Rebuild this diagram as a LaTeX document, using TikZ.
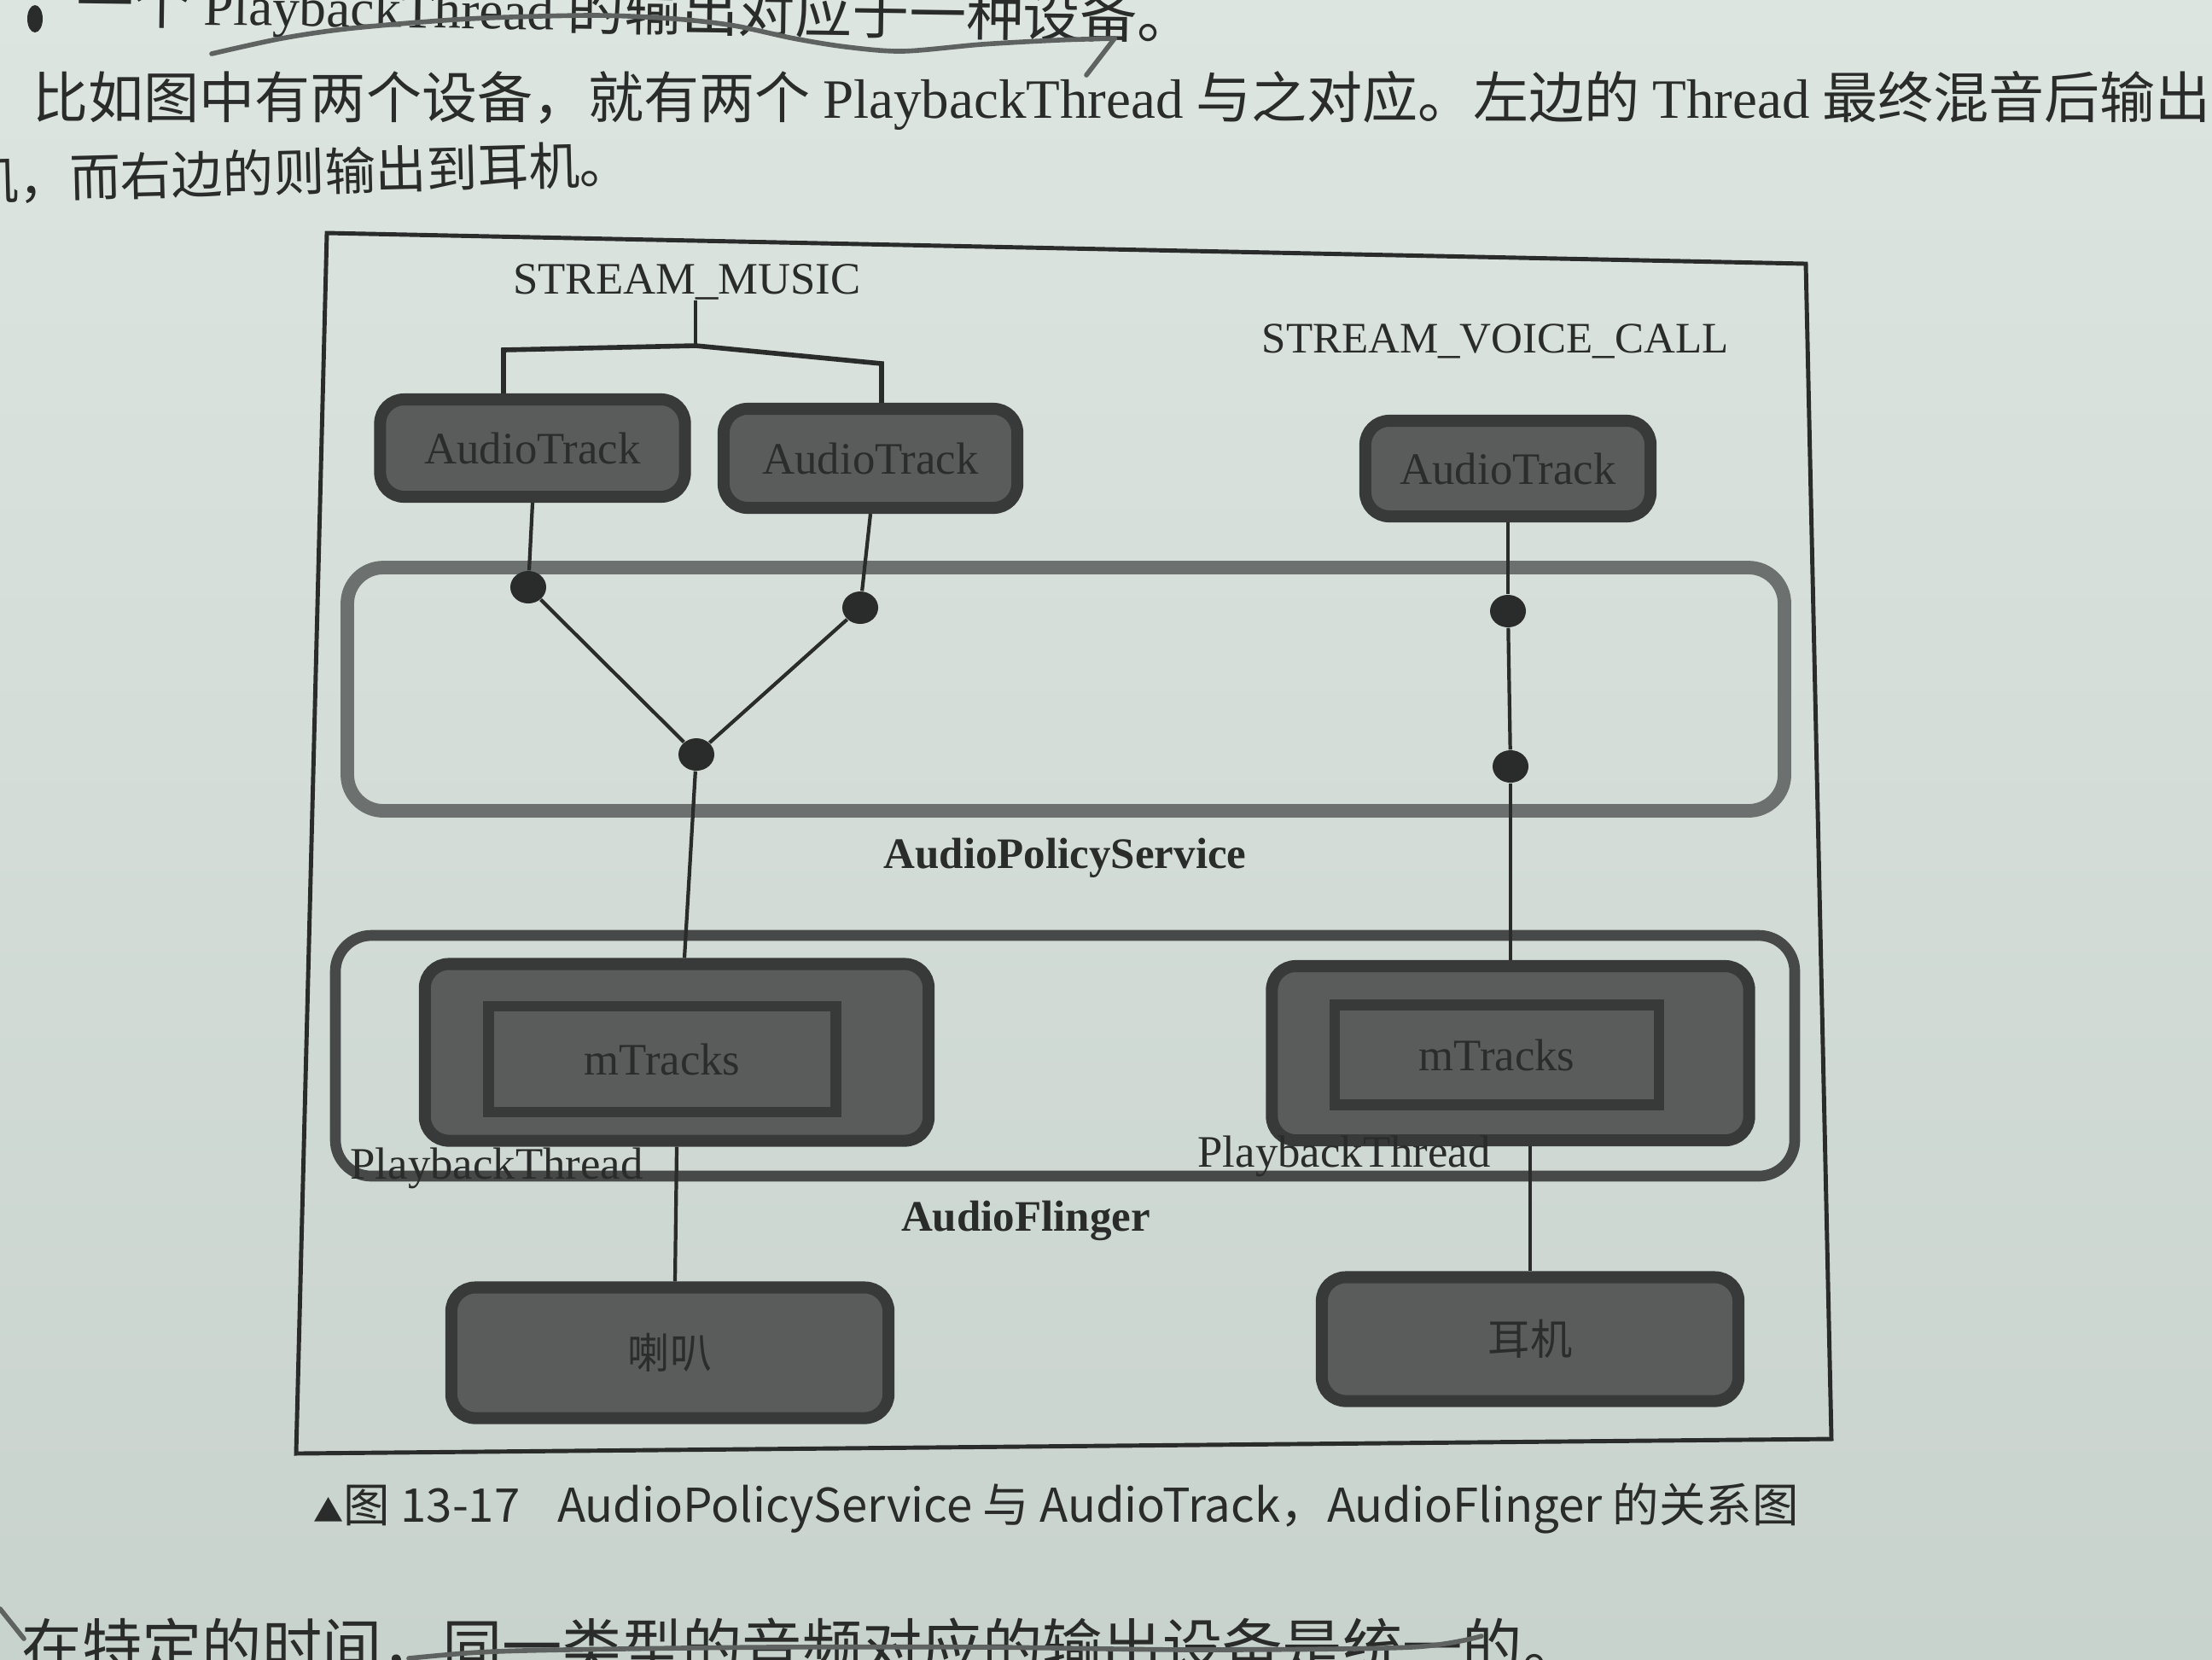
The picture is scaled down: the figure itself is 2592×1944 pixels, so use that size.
\documentclass[tikz,border=0pt]{standalone}
\usepackage{fontspec}
\setmainfont{Liberation Serif}
\newfontfamily\cjk{Noto Sans CJK SC}
\usetikzlibrary{shapes.geometric}
\definecolor{papertop}{HTML}{DDE5E0}
\definecolor{papermid}{HTML}{D2DBD5}
\definecolor{paperbot}{HTML}{C9D3CD}
\definecolor{boxfill}{HTML}{5A5C5B}
\definecolor{boxline}{HTML}{383A39}
\definecolor{boxtext}{HTML}{2B2D2C}
\definecolor{ink}{HTML}{2A2C2B}
\definecolor{apsline}{HTML}{6C706E}
\definecolor{afline}{HTML}{464948}
\definecolor{pen}{HTML}{5E6260}
\begin{document}
\begin{tikzpicture}[x=0.01cm,y=-0.01cm,
  lbl/.style={text=ink, inner sep=0pt, font=\fontsize{15pt}{18pt}\selectfont},
  blbl/.style={text=ink, inner sep=0pt, font=\bfseries\fontsize{14.5pt}{18pt}\selectfont},
  devbox/.style={draw=boxline, line width=4pt, fill=boxfill, rounded corners=8pt,
    text=boxtext, font=\fontsize{15pt}{18pt}\selectfont},
  innerbox/.style={draw=boxline, line width=3.6pt, text=boxtext,
    font=\fontsize{15pt}{18pt}\selectfont},
  group/.style={line width=4.5pt, rounded corners=12pt},
  dot/.style={ellipse, fill=ink, inner sep=0pt, minimum width=0.42cm, minimum height=0.38cm},
  conn/.style={draw=ink, line width=1.2pt},
  pagetext/.style={text=ink, inner sep=0pt, anchor=base west, font=\fontsize{18.5pt}{22pt}\selectfont},
  penline/.style={draw=pen, line width=1.6pt, line cap=round}]
\useasboundingbox (0,0) rectangle (2592,1944);
\clip (0,0) rectangle (2592,1944);
\shade[top color=papertop, middle color=papermid, bottom color=paperbot] (0,0) rectangle (2592,1944);

% page text
\fill[ink] (41,22) ellipse (0.09cm and 0.16cm);
\node[pagetext, rotate=-0.8, font=\fontsize{19pt}{22pt}\selectfont] (t1) at (89,27) {\cjk 一个 {\rmfamily\fontsize{18pt}{22pt}\selectfont PlaybackThread} 的输出对应于一种设备。};
\node[pagetext] (t2) at (38,138) {\cjk 比如图中有两个设备，就有两个 {\rmfamily PlaybackThread} 与之对应。左边的 {\rmfamily Thread} 最终混音后输出};
\node[pagetext, rotate=1.45, font=\fontsize{17pt}{22pt}\selectfont] (t3) at (-38,234) {\cjk 机，而右边的则输出到耳机。};
\node[pagetext, font=\fontsize{20pt}{22pt}\selectfont] (t4) at (25,1955) {\cjk 在特定的时间，同一类型的音频对应的输出设备是统一的。};
\draw[penline] plot[smooth] coordinates {(248,63) (330,45) (413,33) (550,22) (694,18) (790,22) (860,30) (930,45) (992,55) (1058,60) (1150,52) (1240,47) (1306,45)};
\draw[penline] (1306,45) -- (1273,88);
\draw[penline] plot[smooth] coordinates {(479,1943) (560,1936) (661,1933) (900,1930) (1157,1930) (1405,1933) (1653,1930) (1736,1917)};
\draw[penline] (0,1885) -- (28,1920);

% frame
\draw[ink, line width=1.4pt] (383,273) -- (2116,309) -- (2146,1686) -- (347,1703) -- cycle;

% labels
\node[lbl] (sm) at (805,330) {STREAM\_MUSIC};
\node[lbl, font=\fontsize{14.5pt}{18pt}\selectfont] (svc) at (1752,400) {STREAM\_VOICE\_CALL};

% AudioPolicyService group
\draw[group, draw=apsline] (407,665) rectangle (2091,950);
\node[blbl] (apsl) at (1248,1005) {AudioPolicyService};

% AudioFlinger group
\draw[group, draw=afline, line width=3.6pt] (393,1096) rectangle (2103,1378);
\node[blbl] (afl) at (1202,1430) {AudioFlinger};

% audio tracks
\node[devbox, minimum width=3.57cm, minimum height=1.14cm] (at1) at (624,525) {AudioTrack};
\node[devbox, minimum width=3.44cm, minimum height=1.16cm] (at2) at (1020,537) {AudioTrack};
\node[devbox, minimum width=3.34cm, minimum height=1.12cm] (at3) at (1767,549) {AudioTrack};

% bracket
\coordinate (bm) at (815,405);
\coordinate (bl) at (590,410);
\coordinate (br) at (1033,426);
\draw[conn] (sm.south -| bm) -- (bm);
\draw[conn, line width=1.6pt] (at1.north -| bl) -- (bl) -- (bm) -- (br) -- (at2.north -| br);

% dots
\node[dot] (d1) at (619,688) {};
\node[dot] (d2) at (1008,712) {};
\node[dot] (d3) at (816,884) {};
\node[dot] (d4) at (1767,716) {};
\node[dot] (d5) at (1770,898) {};

% playback threads
\node[devbox, minimum width=5.9cm, minimum height=2.07cm] (pt1) at (793,1233) {};
\node[innerbox, minimum width=4.07cm, minimum height=1.24cm] (mt1) at (776,1241) {mTracks};
\node[devbox, minimum width=5.59cm, minimum height=2.04cm] (pt2) at (1770,1234) {};
\node[innerbox, minimum width=3.8cm, minimum height=1.17cm] (mt2) at (1754,1236) {mTracks};
\node[lbl] (ptl1) at (582,1369) {PlaybackThread};
\node[lbl] (ptl2) at (1575,1355) {PlaybackThread};

% devices
\node[devbox, minimum width=5.12cm, minimum height=1.53cm, font=\cjk\fontsize{14pt}{16pt}\selectfont] (spk) at (785,1585) {喇叭};
\node[devbox, minimum width=4.88cm, minimum height=1.45cm, font=\cjk\fontsize{14pt}{16pt}\selectfont] (ear) at (1793,1569) {耳机};

% connectors
\draw[conn] (at1.south) -- (d1);
\draw[conn] (at2.south) -- (d2);
\draw[conn] (d1) -- (d3);
\draw[conn] (d2) -- (d3);
\draw[conn] (d3) -- ([xshift=0.09cm]pt1.north);
\draw[conn] (at3.south) -- (d4);
\draw[conn] (d4) -- (d5);
\draw[conn] (d5) -- (pt2.north);
\draw[conn] (pt1.south) -- ([xshift=0.06cm]spk.north);
\draw[conn] (pt2.south -| ear.north) -- (ear.north);

% caption
\node[anchor=west, inner sep=0pt, text=ink, font=\cjk\fontsize{15.5pt}{18pt}\selectfont] (cap) at (367,1767) {{\fontsize{10pt}{10pt}\selectfont ▲}图 13-17\hspace{0.8em}AudioPolicyService 与 AudioTrack，AudioFlinger 的关系图};
\end{tikzpicture}
\end{document}
